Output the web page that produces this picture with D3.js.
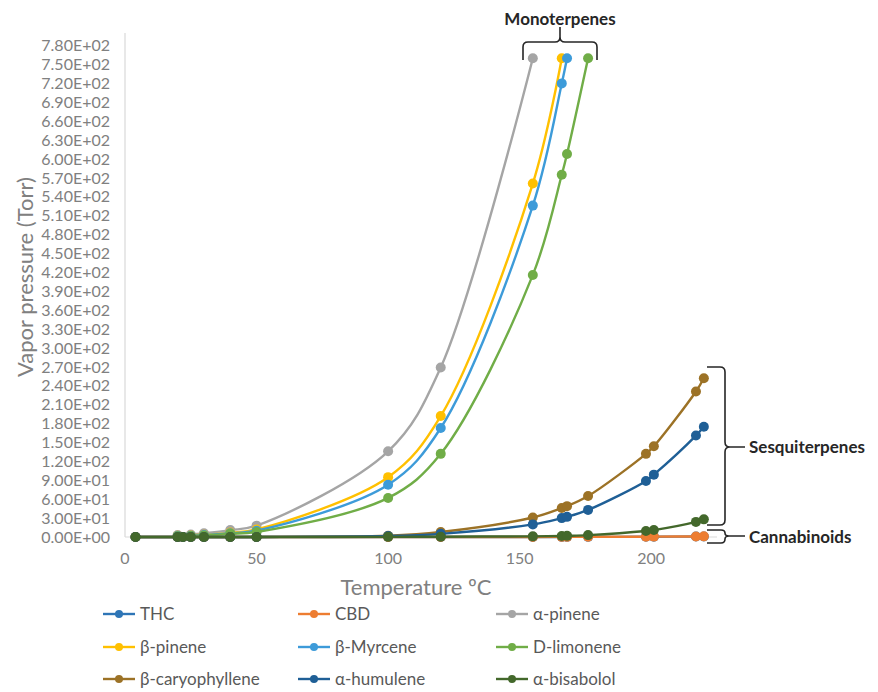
<!DOCTYPE html>
<html>
<head>
<meta charset="utf-8">
<script src="https://cdn.jsdelivr.net/npm/d3@7"></script>
<style>
  body { margin: 0; background: #fff; }
  text { font-family: Lato, "Open Sans", sans-serif; }
</style>
</head>
<body>
<svg id="chart" width="878" height="692"></svg>
<script>
// temperatures (°C) used by the low-volatility compounds
var tHeavy = [4, 20, 22, 25, 30, 40, 50, 100, 120, 155, 166, 168, 176, 198, 201, 217, 220];
// vapor pressures (Torr)
var thc       = [0, 0, 0, 0, 0, 0, 0, 0, 0, 0.1, 0.1, 0.2, 0.2, 0.4, 0.5, 0.7, 0.8];
var cbd       = [0, 0, 0, 0, 0, 0, 0, 0, 0, 0.1, 0.2, 0.2, 0.3, 0.5, 0.6, 0.9, 1];
var caryoph   = [0, 0, 0, 0, 0, 0, 0.1, 2, 8, 31, 46, 49, 65, 132, 144, 231, 252];
var humulene  = [0, 0, 0, 0, 0, 0, 0.1, 1.5, 5, 20, 30, 32, 43, 89, 99, 161, 175];
var bisabolol = [0, 0, 0, 0, 0, 0, 0, 0.2, 0.5, 1, 1.5, 1.8, 3, 9.5, 11, 24, 28];

// monoterpenes
var tPinA     = [20, 25, 30, 40, 50, 100, 120, 155];
var pinA      = [3, 4, 6, 11, 18, 136, 269, 760];
var tPinB     = [20, 25, 30, 40, 50, 100, 120, 155, 166];
var pinB      = [2, 2.5, 3.5, 7, 12, 95, 192, 561, 760];
var tMyrc     = [20, 25, 30, 40, 50, 100, 120, 155, 166, 168];
var myrcene   = [1.5, 2, 3, 6, 10, 83, 173, 526, 720, 760];
var tLimo     = [20, 25, 30, 40, 50, 100, 120, 155, 166, 168, 176];
var limonene  = [1.2, 1.6, 2.5, 5, 8, 62, 132, 416, 575, 608, 760];

var names  = ["THC", "CBD", "α-pinene", "β-pinene", "β-Myrcene", "D-limonene",
              "β-caryophyllene", "α-humulene", "α-bisabolol"];
var colors = ["#2E75B6", "#ED7D31", "#A5A5A5", "#FFC000", "#3D9BD9", "#70AD47",
              "#9C7226", "#1F5F96", "#43682B"];
var xTicks = [0, 50, 100, 150, 200];
var yTicks = d3.range(0, 781, 30);

var series = [
  {t: tHeavy, v: thc},
  {t: tHeavy, v: cbd},
  {t: tPinA,  v: pinA},
  {t: tPinB,  v: pinB},
  {t: tMyrc,  v: myrcene},
  {t: tLimo,  v: limonene},
  {t: tHeavy, v: caryoph},
  {t: tHeavy, v: humulene},
  {t: tHeavy, v: bisabolol}
].map(function(s, i) {
  return {name: names[i], color: colors[i],
          pts: s.t.map(function(t, j) { return [t, s.v[j]]; })};
});

var svg = d3.select("#chart");

var x = d3.scaleLinear().domain([0, 225]).range([125, 717]);
var y = d3.scaleLinear().domain([0, 800]).range([537, 33]);

// Excel style scientific label, e.g. 7.80E+02
function sci(v) {
  if (v === 0) return "0.00E+00";
  var e = Math.floor(Math.log10(v));
  var m = v / Math.pow(10, e);
  return m.toFixed(2) + "E" + (e < 0 ? "-" : "+") + String(Math.abs(e)).padStart(2, "0");
}

/* axes */
svg.append("line").attr("x1", 125).attr("x2", 125).attr("y1", 33).attr("y2", 537)
   .attr("stroke", "#d9d9d9").attr("stroke-width", 1.2);
svg.append("line").attr("x1", 125).attr("x2", 717).attr("y1", 537).attr("y2", 537)
   .attr("stroke", "#d9d9d9").attr("stroke-width", 1.2);

svg.append("g").selectAll("text").data(yTicks).enter().append("text")
   .attr("x", 110).attr("y", function(d) { return y(d); })
   .attr("dy", "0.35em").attr("text-anchor", "end")
   .attr("font-size", 16).attr("fill", "#808080")
   .text(sci);

svg.append("g").selectAll("text").data(xTicks).enter().append("text")
   .attr("x", function(d) { return x(d); }).attr("y", 558)
   .attr("dy", "0.35em").attr("text-anchor", "middle")
   .attr("font-size", 16).attr("fill", "#808080")
   .text(function(d) { return d; });

svg.append("text").attr("transform", "translate(25,277) rotate(-90)")
   .attr("text-anchor", "middle").attr("dy", "0.35em")
   .attr("font-size", 22).attr("fill", "#808080")
   .text("Vapor pressure (Torr)");

svg.append("text").attr("x", 416).attr("y", 587)
   .attr("text-anchor", "middle").attr("dy", "0.35em")
   .attr("font-size", 22).attr("fill", "#808080")
   .text("Temperature ºC");

/* series */
var line = d3.line()
  .x(function(d) { return x(d[0]); })
  .y(function(d) { return y(d[1]); })
  .curve(d3.curveCatmullRom.alpha(0.5));

var g = svg.append("g").selectAll("g").data(series).enter().append("g");
g.append("path")
  .attr("d", function(d) { return line(d.pts); })
  .attr("fill", "none").attr("stroke", function(d) { return d.color; })
  .attr("stroke-width", 2.4);
g.selectAll("circle").data(function(d) { return d.pts.map(function(p) { return {p: p, c: d.color}; }); })
  .enter().append("circle")
  .attr("cx", function(d) { return x(d.p[0]); })
  .attr("cy", function(d) { return y(d.p[1]); })
  .attr("r", 5).attr("fill", function(d) { return d.c; });

/* legend */
var legX = [103, 298, 496], legY = [614, 647, 679];
var leg = svg.append("g").selectAll("g").data(series).enter().append("g")
  .attr("transform", function(d, i) { return "translate(" + legX[i % 3] + "," + legY[Math.floor(i / 3)] + ")"; });
leg.append("line").attr("x1", 0).attr("x2", 32)
  .attr("stroke", function(d) { return d.color; }).attr("stroke-width", 2.4);
leg.append("circle").attr("cx", 16).attr("r", 4).attr("fill", function(d) { return d.color; });
leg.append("text").attr("x", 37).attr("dy", "0.35em")
  .attr("font-size", 17).attr("fill", "#595959")
  .text(function(d) { return d.name; });

/* group braces */
var brace = svg.append("g").attr("fill", "none").attr("stroke", "#262626").attr("stroke-width", 1.6);
brace.append("path").attr("d",
  "M523,60 V47 Q523,42 528,42 H555 Q560,42 560,37 V27 M560,37 Q560,42 565,42 H592 Q597,42 597,47 V60");
brace.append("path").attr("d",
  "M707,367 H720 Q725,367 725,372 V442 Q725,447 730,447 H745 M730,447 Q725,447 725,452 V520 Q725,525 720,525 H707");
brace.append("path").attr("d",
  "M707,530 H721 Q725,530 725,533 Q725,536 729,536 H745 M729,536 Q725,536 725,539 Q725,543 721,543 H707");

var lab = svg.append("g").attr("font-weight", "bold").attr("font-size", 17).attr("fill", "#262626");
lab.append("text").attr("x", 560).attr("y", 19).attr("dy", "0.35em").attr("text-anchor", "middle").text("Monoterpenes");
lab.append("text").attr("x", 749).attr("y", 447).attr("dy", "0.35em").text("Sesquiterpenes");
lab.append("text").attr("x", 749).attr("y", 537).attr("dy", "0.35em").text("Cannabinoids");
</script>
</body>
</html>
